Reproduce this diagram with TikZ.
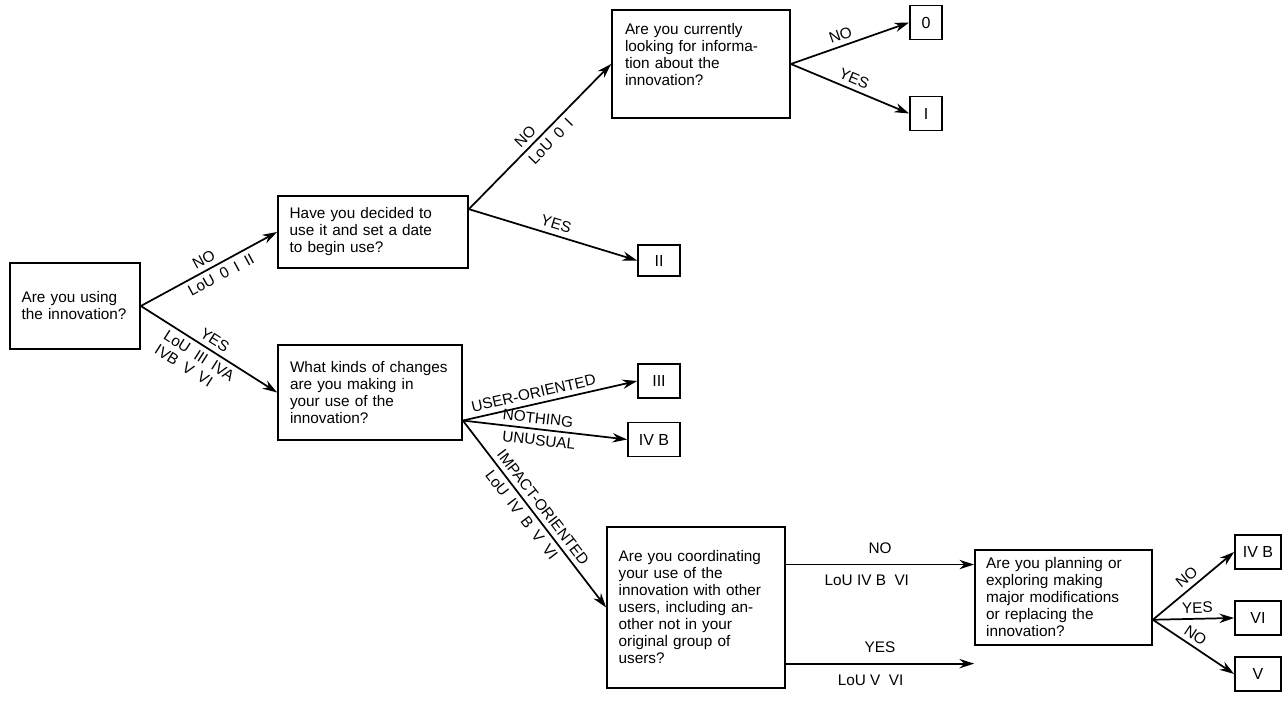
\documentclass[tikz,border=0pt]{standalone}
\usepackage{fontspec}
\setmainfont{Liberation Sans}
\usetikzlibrary{arrows.meta,calc}

\tikzset{
  qbox/.style={draw, line width=1.3pt, align=left, inner sep=0pt,
    font=\fontsize{11.5}{12.75}\selectfont},
  lvl/.style={draw, line width=1.3pt, inner sep=0pt, minimum height=25.5pt,
    font=\fontsize{12}{13}\selectfont},
  flow/.style={line width=1.3pt, -{Stealth[length=11pt,width=7pt]}},
  lbl/.style={sloped, inner sep=3.5pt, font=\fontsize{11.5}{12.5}\selectfont}
}
\newcommand{\gp}{\enspace}

\begin{document}
\begin{tikzpicture}[x=0.75pt,y=-0.75pt]
\path[use as bounding box] (0,0) rectangle (1283,702);

%Shape: Rectangle [using]
\node[qbox, minimum width=97.5pt, minimum height=64.5pt, text width=80pt] (using) at (75,306) {Are you using\\the innovation?};
%Shape: Rectangle [decided]
\node[qbox, minimum width=142.5pt, minimum height=54pt, text width=125pt] (decided) at (373,232) {Have you decided to\\use it and set a date\\to begin use?};
%Shape: Rectangle [looking]
\node[qbox, minimum width=133.5pt, minimum height=81pt, text width=114pt, text depth=52pt] (looking) at (701,64) {Are you currently\\looking for informa-\\tion about the\\innovation?};
%Shape: Rectangle [changes]
\node[qbox, minimum width=138pt, minimum height=71.25pt, text width=120pt] (changes) at (370,392.5) {What kinds of changes\\are you making in\\your use of the\\innovation?};
%Shape: Rectangle [coord]
\node[qbox, minimum width=133.5pt, minimum height=120.75pt, text width=116pt] (coord) at (696,607.5) {Are you coordinating\\your use of the\\innovation with other\\users, including an-\\other not in your\\original group of\\users?};
%Shape: Rectangle [planning]
\node[qbox, minimum width=132.75pt, minimum height=71.25pt, text width=116pt] (planning) at (1063.5,597.5) {Are you planning or\\exploring making\\major modifications\\or replacing the\\innovation?};

%Shape: Square [levels]
\node[lvl, minimum width=24pt] (lvl0) at (926,22.5) {0};
\node[lvl, minimum width=24pt] (lvlI) at (926,113.5) {I};
\node[lvl, minimum width=31.5pt, minimum height=23pt] (lvlII) at (659,260.5) {II};
\node[lvl, minimum width=31.5pt] (lvlIII) at (659,381) {III};
\node[lvl, minimum width=39pt] (lvlIVB) at (654,439.5) {IV B};
\node[lvl, minimum width=34.5pt] (lvlIVBb) at (1258,552) {IV B};
\node[lvl, minimum width=34.5pt] (lvlVI) at (1258,618) {VI};
\node[lvl, minimum width=34.5pt] (lvlV) at (1258,674) {V};

% exit points
\coordinate (decOut) at ($(decided.north east)!0.19!(decided.south east)$);
\coordinate (chgOut) at ($(changes.north east)!0.79!(changes.south east)$);
\coordinate (crdNo) at ($(coord.north east)!0.236!(coord.south east)$);
\coordinate (crdYes) at ($(coord.north east)!0.845!(coord.south east)$);
\coordinate (plnOut) at ($(planning.north east)!0.73!(planning.south east)$);

%Straight Lines
\draw[flow] (using.east) -- (decided.west)
  node[lbl, midway, above] {NO} node[lbl, pos=0.55, below] {LoU\gp 0\gp I\gp II};
\draw[flow] (using.east) -- (changes.west)
  node[lbl, pos=0.5, above] {YES} node[lbl, pos=0.47, below, align=left] {LoU\gp III\gp IVA\\IVB\gp V\gp VI};
\draw[flow] (decOut) -- (looking.west)
  node[lbl, pos=0.45, above] {NO} node[lbl, pos=0.52, below] {LoU\gp 0\gp I};
\draw[flow] (decOut) -- (lvlII.west) node[lbl, midway, above] {YES};
\draw[flow] (looking.east) -- (lvl0.west) node[lbl, pos=0.45, above] {NO};
\draw[flow] (looking.east) -- (lvlI.west) node[lbl, pos=0.5, above] {YES};
\draw[flow] (chgOut) -- (lvlIII.west) node[lbl, pos=0.42, above] {USER-ORIENTED};
\draw[flow] (chgOut) -- (lvlIVB.west)
  node[lbl, pos=0.45, above] {NOTHING} node[lbl, pos=0.47, below] {UNUSUAL};
\draw[flow] (chgOut) -- (coord.west)
  node[lbl, pos=0.5, above] {IMPACT-ORIENTED} node[lbl, pos=0.47, below] {LoU\gp IV\gp B\gp V\gp VI};
\draw[flow] (crdNo) -- (crdNo -| planning.west)
  node[lbl, midway, above=4pt] {NO} node[lbl, pos=0.43, below=4pt] {LoU IV B\ \ VI};
\draw[flow] (crdYes) -- (crdYes -| planning.west)
  node[lbl, midway, above=4pt] {YES} node[lbl, pos=0.45, below=4pt] {LoU V\ \ VI};
\draw[flow] (plnOut) -- (lvlIVBb.west) node[lbl, pos=0.5, above] {NO};
\draw[flow] (plnOut) -- (lvlVI.west) node[lbl, pos=0.55, above] {YES};
\draw[flow] (plnOut) -- (lvlV.west) node[lbl, pos=0.45, above] {NO};

\end{tikzpicture}
\end{document}
